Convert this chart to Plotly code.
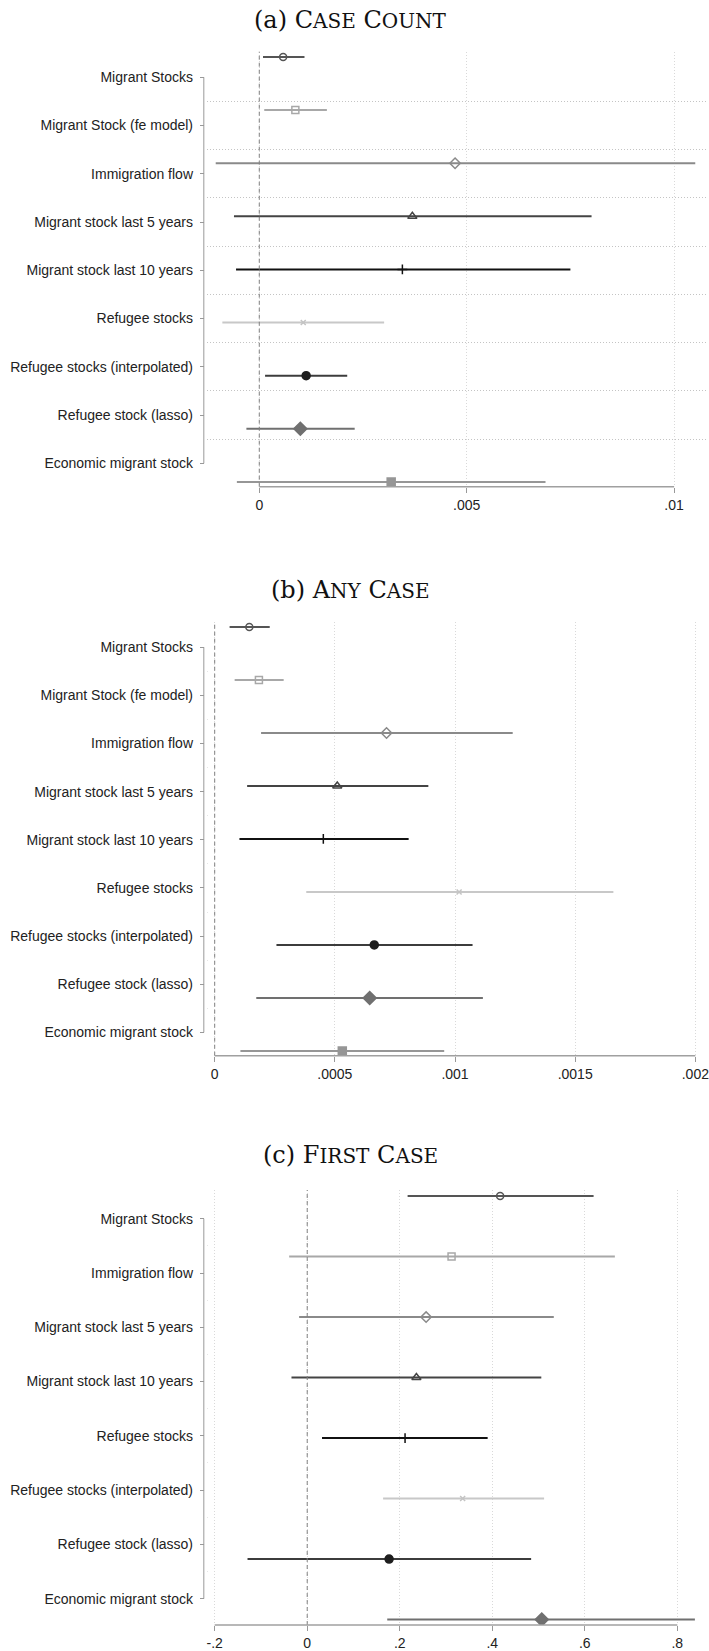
import plotly.graph_objects as go

# ---------------- data ----------------
labels_ab = ["Migrant Stocks", "Migrant Stock (fe model)", "Immigration flow",
             "Migrant stock last 5 years", "Migrant stock last 10 years", "Refugee stocks",
             "Refugee stocks (interpolated)", "Refugee stock (lasso)", "Economic migrant stock"]
labels_c = ["Migrant Stocks", "Immigration flow", "Migrant stock last 5 years",
            "Migrant stock last 10 years", "Refugee stocks", "Refugee stocks (interpolated)",
            "Refugee stock (lasso)", "Economic migrant stock"]

est_a = [0.000575, 0.00087, 0.00472, 0.00369, 0.00345, 0.00106, 0.00113, 0.00099, 0.00318]
lo_a = [0.00009, 0.00012, -0.00105, -0.00061, -0.00056, -0.00089, 0.00014, -0.00031, -0.00054]
hi_a = [0.00109, 0.00163, 0.01051, 0.00801, 0.00750, 0.00301, 0.00212, 0.00230, 0.00690]

est_b = [0.000144, 0.000184, 0.000715, 0.000510, 0.000452, 0.001017, 0.000664, 0.000645, 0.000531]
lo_b = [0.000062, 0.000083, 0.000193, 0.000135, 0.000103, 0.000381, 0.000257, 0.000173, 0.000107]
hi_b = [0.000229, 0.000287, 0.001240, 0.000889, 0.000807, 0.001659, 0.001073, 0.001116, 0.000955]

est_c = [0.417, 0.312, 0.257, 0.236, 0.2115, 0.336, 0.177, 0.507]
lo_c = [0.217, -0.039, -0.0175, -0.034, 0.032, 0.164, -0.129, 0.173]
hi_c = [0.619, 0.665, 0.533, 0.506, 0.390, 0.512, 0.484, 0.838]

ticks_a = [0, 0.005, 0.01]
ticktext_a = ["0", ".005", ".01"]
ticks_b = [0, 0.0005, 0.001, 0.0015, 0.002]
ticktext_b = ["0", ".0005", ".001", ".0015", ".002"]
ticks_c = [-0.2, 0, 0.2, 0.4, 0.6, 0.8]
ticktext_c = ["-.2", "0", ".2", ".4", ".6", ".8"]

titles = ["(a) C<span style='font-size:20px'>ASE</span> C<span style='font-size:20px'>OUNT</span>",
          "(b) A<span style='font-size:20px'>NY</span> C<span style='font-size:20px'>ASE</span>",
          "(c) F<span style='font-size:20px'>IRST</span> C<span style='font-size:20px'>ASE</span>"]

# ---------------- styles ----------------
style_ab = [
    ("circle-open", "#555555", 7, "#555555"),
    ("square-open", "#a8a8a8", 7, "#a8a8a8"),
    ("diamond-open", "#8a8a8a", 8, "#8a8a8a"),
    ("triangle-up-open", "#444444", 8, "#444444"),
    ("cross-thin-open", "#111111", 7, "#111111"),
    ("x-thin-open", "#c4c4c4", 5, "#c8c8c8"),
    ("circle", "#1e1e1e", 8, "#3c3c3c"),
    ("diamond", "#707070", 10, "#707070"),
    ("square", "#969696", 8, "#969696"),
]
style_c = [style_ab[0], style_ab[1], style_ab[2], style_ab[3], style_ab[4],
           style_ab[5], style_ab[6], style_ab[7]]

W, H = 709, 1651
x_left_px = 207
yaxis_line_px = 203.4
panels = [
    dict(labels=labels_ab, est=est_a, lo=lo_a, hi=hi_a, ticks=ticks_a, tt=ticktext_a,
         xr=[-0.00125, 0.010817], top=51.7, bot=486.7, title_y=20, styles=style_ab),
    dict(labels=labels_ab, est=est_b, lo=lo_b, hi=hi_b, ticks=ticks_b, tt=ticktext_b,
         xr=[-0.0000303, 0.0020527], top=621.7, bot=1055.7, title_y=590, styles=style_ab),
    dict(labels=labels_c, est=est_c, lo=lo_c, hi=hi_c, ticks=ticks_c, tt=ticktext_c,
         xr=[-0.2157, 0.8663], top=1190, bot=1625, title_y=1155, styles=style_c),
]

fig = go.Figure()
layout = dict(width=W, height=H, margin=dict(l=0, r=0, t=0, b=0),
              paper_bgcolor="white", plot_bgcolor="white", showlegend=False)
shapes = []
annotations = []
label_font = dict(family="Liberation Sans, Arial, sans-serif", size=14, color="#222222")

for p_i, p in enumerate(panels):
    n = len(p["labels"])
    k = p_i + 1
    xa = "xaxis" if k == 1 else f"xaxis{k}"
    ya = "yaxis" if k == 1 else f"yaxis{k}"
    ym = f"yaxis{k + 3}"
    xref = "x" if k == 1 else f"x{k}"
    yref = "y" if k == 1 else f"y{k}"
    ymref = f"y{k + 3}"
    dom = [1 - p["bot"] / H, 1 - p["top"] / H]
    ypos = yaxis_line_px / W

    layout[xa] = dict(domain=[x_left_px / W, 1], anchor=yref, range=p["xr"],
                      tickmode="array", tickvals=p["ticks"], ticktext=p["tt"],
                      ticks="outside", ticklen=5, tickcolor="#999999", tickwidth=1,
                      showline=False, zeroline=False, showgrid=True,
                      gridcolor="#d9d9d9", griddash="1px,2px", gridwidth=1,
                      tickfont=label_font, ticklabeloverflow="allow")
    layout[ya] = dict(domain=dom, anchor="free", position=ypos,
                      range=[n + 0.485, 0.47], tickmode="array",
                      tickvals=list(range(1, n + 1)), ticktext=p["labels"],
                      ticks="outside", ticklen=4, tickcolor="#999999", tickwidth=1,
                      showline=False, zeroline=False, showgrid=False,
                      tickfont=label_font, ticklabelstandoff=4,
                      minor=dict(tickmode="array",
                                 tickvals=[i + 0.5 for i in range(1, n)],
                                 showgrid=True, gridcolor="#c4c4c4",
                                 griddash="1px,2px", gridwidth=1, ticks=""))
    layout[ym] = dict(domain=dom, overlaying=yref, range=[n + 0.09, 0.9],
                      visible=False, showgrid=False, zeroline=False)

    # zero reference line
    shapes.append(dict(type="line", xref=xref, yref=f"{yref} domain", x0=0, x1=0,
                       y0=0, y1=1, line=dict(color="#808080", width=1, dash="4px,3px"),
                       layer="above"))
    # x axis line spanning tick range
    shapes.append(dict(type="line", xref=xref, yref=f"{yref} domain",
                       x0=p["ticks"][0], x1=p["ticks"][-1], y0=0, y1=0,
                       line=dict(color="#a0a0a0", width=1.5)))
    # y axis line spanning label range
    shapes.append(dict(type="line", xref="paper", yref=yref, x0=ypos, x1=ypos,
                       y0=1, y1=n, line=dict(color="#999999", width=1)))

    for i in range(n):
        sym, col, size, lcol = p["styles"][i]
        e = p["est"][i]
        fig.add_trace(go.Scatter(
            x=[e], y=[i + 1], xaxis=xref, yaxis=ymref, mode="markers",
            error_x=dict(type="data", symmetric=False,
                         array=[p["hi"][i] - e], arrayminus=[e - p["lo"][i]],
                         color=lcol, thickness=2, width=0),
            marker=dict(symbol=sym, color=col, size=size,
                        line=dict(color=col, width=1.5)),
            hoverinfo="skip"))

    annotations.append(dict(text=titles[p_i], xref="paper", yref="paper",
                            x=350 / W, y=1 - p["title_y"] / H, showarrow=False,
                            xanchor="center", yanchor="middle",
                            font=dict(family="DejaVu Serif, serif", size=24, color="#111111")))

layout["shapes"] = shapes
layout["annotations"] = annotations
fig.update_layout(**layout)
fig.write_html("out.html")
